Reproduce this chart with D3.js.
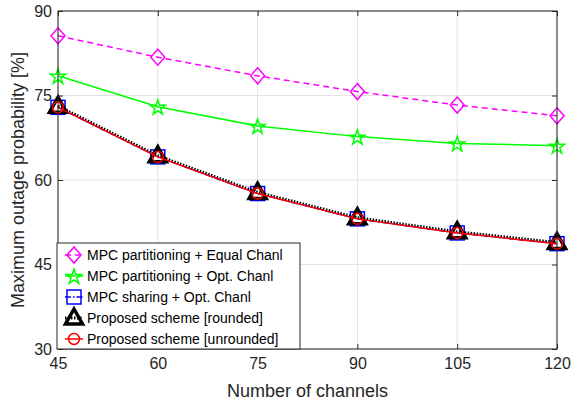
<!DOCTYPE html>
<html><head><meta charset="utf-8">
<script src="https://cdn.jsdelivr.net/npm/d3@7/dist/d3.min.js"></script>
<style>body{margin:0;background:#fff}svg{display:block;font-family:"Liberation Sans",Arial,sans-serif}</style>
</head><body><svg id="c" width="573" height="407"></svg>
<script>
const channels = [45, 60, 75, 90, 105, 120];
const xTicks = [45, 60, 75, 90, 105, 120];
const yTicks = [30, 45, 60, 75, 90];
const mpcPartEqual = [85.6, 81.8, 78.5, 75.7, 73.3, 71.4];
const mpcPartOpt   = [78.5, 73.0, 69.6, 67.7, 66.5, 66.1];
const mpcShareOpt  = [72.9, 64.1, 57.6, 53.1, 50.6, 48.7];
const propRounded  = [73.1, 64.3, 57.8, 53.3, 50.8, 48.9];
const propUnround  = [72.9, 64.1, 57.6, 53.1, 50.6, 48.7];
const seriesNames = ["MPC partitioning + Equal Chanl","MPC partitioning + Opt. Chanl","MPC sharing + Opt. Chanl","Proposed scheme [rounded]","Proposed scheme [unrounded]"];

const svg = d3.select("#c");
const L=58,R=557,T=11,B=349;
const x = d3.scaleLinear().domain([45,120]).range([L,R]);
const y = d3.scaleLinear().domain([30,90]).range([B,T]);

svg.append("g").selectAll("line").data(xTicks).join("line")
 .attr("x1",d=>x(d)).attr("x2",d=>x(d)).attr("y1",T).attr("y2",B).attr("stroke","#e3e3e3").attr("stroke-width",1);
svg.append("g").selectAll("line").data(yTicks).join("line")
 .attr("y1",d=>y(d)).attr("y2",d=>y(d)).attr("x1",L).attr("x2",R).attr("stroke","#e3e3e3").attr("stroke-width",1);

const line = d3.line().x((d,i)=>x(channels[i])).y(d=>y(d));
const series = [
 {v:mpcPartEqual, c:"#ff00ff", dash:"6,4", w:1.5, m:"diamond"},
 {v:mpcPartOpt, c:"#00ff00", dash:null, w:1.5, m:"star"},
 {v:mpcShareOpt, c:"#0000ff", dash:"6,2,1.5,2", w:1.5, m:"square"},
 {v:propRounded, c:"#000000", dash:"1.5,1.5", w:3, m:"triangle"},
 {v:propUnround, c:"#ff0000", dash:null, w:1.5, m:"circle"}
];
function marker(g, m, c, cx, cy){
  if(m==="diamond") g.append("path").attr("d",`M${cx},${cy-8}L${cx+7},${cy}L${cx},${cy+8}L${cx-7},${cy}Z`).attr("fill","none").attr("stroke",c).attr("stroke-width",1.5);
  else if(m==="star") g.append("path").attr("d",d3.symbol(d3.symbolStar,70)()).attr("transform",`translate(${cx},${cy+1})`).attr("fill","none").attr("stroke",c).attr("stroke-width",1.5);
  else if(m==="square") g.append("rect").attr("x",cx-7).attr("y",cy-7).attr("width",14).attr("height",14).attr("fill","none").attr("stroke",c).attr("stroke-width",1.5);
  else if(m==="triangle") g.append("path").attr("d",`M${cx},${cy-9}L${cx+8.5},${cy+6}L${cx-8.5},${cy+6}Z`).attr("fill","none").attr("stroke",c).attr("stroke-width",3.5).attr("stroke-linejoin","miter");
  else if(m==="circle") g.append("circle").attr("cx",cx).attr("cy",cy).attr("r",5.5).attr("fill","none").attr("stroke",c).attr("stroke-width",1.5);
}
series.forEach(s=>{
  svg.append("path").datum(s.v).attr("d",line).attr("fill","none").attr("stroke",s.c).attr("stroke-width",s.w).attr("stroke-dasharray",s.dash);
  const g=svg.append("g");
  s.v.forEach((d,i)=>marker(g,s.m,s.c,x(channels[i]),y(d)));
});

svg.append("rect").attr("x",L).attr("y",T).attr("width",R-L).attr("height",B-T).attr("fill","none").attr("stroke","#262626").attr("stroke-width",1);
const ax=svg.append("g").attr("transform",`translate(0,${B})`).call(d3.axisBottom(x).tickValues(xTicks).tickSize(-5).tickPadding(9));
const axT=svg.append("g").attr("transform",`translate(0,${T})`).call(d3.axisTop(x).tickValues(xTicks).tickSize(-5).tickFormat(""));
const ay=svg.append("g").attr("transform",`translate(${L},0)`).call(d3.axisLeft(y).tickValues(yTicks).tickSize(-5).tickPadding(6));
const ayR=svg.append("g").attr("transform",`translate(${R},0)`).call(d3.axisRight(y).tickValues(yTicks).tickSize(-5).tickFormat(""));
[ax,axT,ay,ayR].forEach(a=>{a.select(".domain").remove();a.selectAll("line").attr("stroke","#262626");a.selectAll("text").attr("fill","#262626").style("font-size","16px").style("font-family","Liberation Sans, Arial, sans-serif");});

svg.append("text").attr("x",(L+R)/2).attr("y",397).attr("text-anchor","middle").attr("fill","#262626").style("font-size","18px").text("Number of channels");
svg.append("text").attr("transform",`translate(24,${(T+B)/2}) rotate(-90)`).attr("text-anchor","middle").attr("fill","#262626").style("font-size","18px").text("Maximum outage probability [%]");

const lg=svg.append("g");
lg.append("rect").attr("x",57).attr("y",243).attr("width",243).attr("height",106).attr("fill","#fff").attr("stroke","#262626").attr("stroke-width",1);
series.forEach((s,i)=>{
  const cy=255+i*21;
  lg.append("line").attr("x1",65).attr("x2",83).attr("y1",cy).attr("y2",cy).attr("stroke",s.c).attr("stroke-width",s.w).attr("stroke-dasharray",s.dash);
  marker(lg,s.m,s.c,74,cy);
  lg.append("text").attr("x",87).attr("y",cy+5).attr("fill","#000").style("font-size","14px").text(seriesNames[i]);
});
</script></body></html>
